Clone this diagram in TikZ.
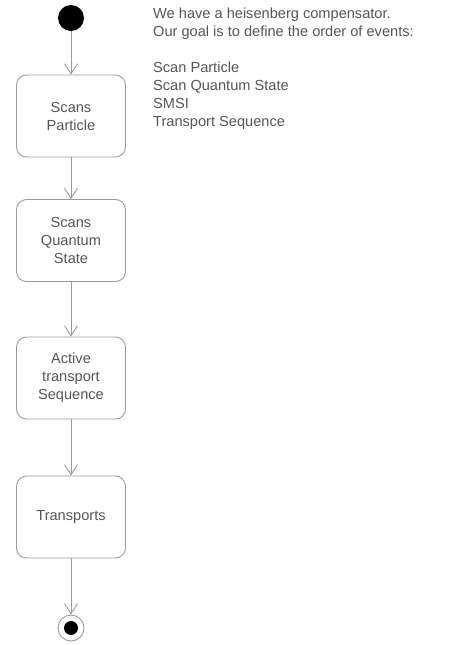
\documentclass[tikz,border=0pt]{standalone}
\usepackage{fontspec}
\setmainfont{Liberation Sans}
\usepackage{xcolor}
\usetikzlibrary{positioning,arrows.meta}
\definecolor{linegray}{HTML}{9A9A9A}
\definecolor{textgray}{HTML}{555555}

\begin{document}
\begin{tikzpicture}[x=1pt,y=-1pt,>={Straight Barb[length=10pt,width=13pt]},
  font=\fontsize{14.6}{18}\selectfont,
  action/.style={draw=linegray,line width=0.9pt,rounded corners=10pt,
    minimum width=109pt,minimum height=82pt,align=center,text=textgray,inner sep=2pt},
  flow/.style={->,draw=linegray,line width=0.9pt}]
  \useasboundingbox (0,0) rectangle (462,645);
  \node[circle,fill=black,minimum size=26pt,inner sep=0pt] (start) at (71,18) {};
  \node[action] (scan) at (71,116) {Scans\\Particle};
  \node[action] (quantum) at (71,240.5) {Scans\\Quantum\\State};
  \node[action] (active) at (71,378) {Active\\transport\\Sequence};
  \node[action] (transp) at (71,517) {Transports};
  \node[circle,draw=linegray,line width=0.9pt,minimum size=26pt,inner sep=0pt] (stop) at (71,628) {};
  \fill (stop.center) circle (7pt);
  \draw[flow] (start) -- (scan);
  \draw[flow] (scan) -- (quantum);
  \draw[flow] (quantum) -- (active);
  \draw[flow] (active) -- (transp);
  \draw[flow] (transp) -- (stop);
  % the note on the right
  \node[anchor=north west,align=left,text=textgray,inner sep=0pt] (note) at (153,8)
    {We have a heisenberg compensator.\\Our goal is to define the order of events:\\[18pt]
     Scan Particle\\Scan Quantum State\\SMSI\\Transport Sequence};
\end{tikzpicture}
\end{document}
